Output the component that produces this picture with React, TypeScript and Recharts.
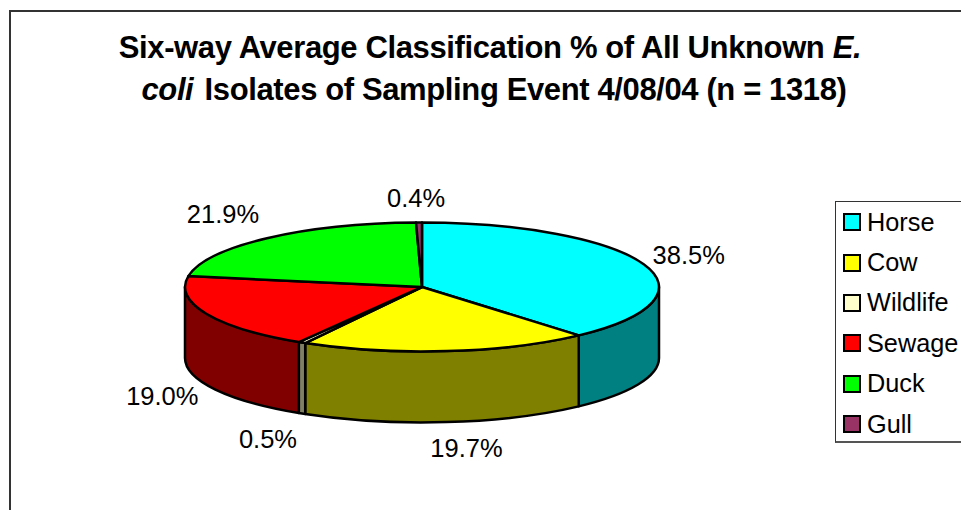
import React from 'react';
import { PieChart, Pie, Legend } from 'recharts';

const categories = ['Horse', 'Cow', 'Wildlife', 'Sewage', 'Duck', 'Gull'];
const shares = [38.5, 19.7, 0.5, 19.0, 21.9, 0.4];
const topColors = ['#00ffff', '#ffff00', '#ffffcc', '#ff0000', '#00ff00', '#993366'];
const sideColors = ['#008080', '#808000', '#808066', '#800000', '#008000', '#4d1a33'];

// nudges from the rim of the pie to where each percentage sits
const labelOffsets = [
  [45, -9],
  [20, 97],
  [-34, 96],
  [-44, 82],
  [-44, -24],
  [-3, -25],
];

const FONT = '"Liberation Sans", Arial, sans-serif';
const CX = 422;
const CY = 287;
const RADIUS = 237;
const SQUASH = 0.272; // pie is tilted, so the circle flattens into an ellipse
const DEPTH = 71;

const topData = categories.map((name, i) => ({ name, value: shares[i], fill: topColors[i] }));
const sideData = categories.map((name, i) => ({ name, value: shares[i], fill: sideColors[i] }));

const RAD = Math.PI / 180;
const rimX = (cx: number, r: number, a: number) => cx + r * Math.cos(a * RAD);
const rimY = (cy: number, r: number, a: number) => cy - r * SQUASH * Math.sin(a * RAD);

function TopSlice({ cx, cy, outerRadius, startAngle, endAngle, fill }: any) {
  const ry = outerRadius * SQUASH;
  const large = Math.abs(startAngle - endAngle) > 180 ? 1 : 0;
  const d = [
    `M ${cx} ${cy}`,
    `L ${rimX(cx, outerRadius, startAngle)} ${rimY(cy, outerRadius, startAngle)}`,
    `A ${outerRadius} ${ry} 0 ${large} 1 ${rimX(cx, outerRadius, endAngle)} ${rimY(cy, outerRadius, endAngle)}`,
    'Z',
  ].join(' ');
  return <path d={d} fill={fill} stroke="#000" strokeWidth={2.5} strokeLinejoin="round" />;
}

// the wall only shows for the part of a slice on the near half of the pie
function SideSlice({ cx, cy, outerRadius, startAngle, endAngle, fill }: any) {
  const from = Math.min(startAngle, 0);
  const to = Math.max(endAngle, -180);
  if (from <= to) return null;
  const ry = outerRadius * SQUASH;
  const x1 = rimX(cx, outerRadius, from);
  const y1 = rimY(cy, outerRadius, from);
  const x2 = rimX(cx, outerRadius, to);
  const y2 = rimY(cy, outerRadius, to);
  const d = [
    `M ${x1} ${y1}`,
    `A ${outerRadius} ${ry} 0 0 1 ${x2} ${y2}`,
    `L ${x2} ${y2 + DEPTH}`,
    `A ${outerRadius} ${ry} 0 0 0 ${x1} ${y1 + DEPTH}`,
    'Z',
  ].join(' ');
  return <path d={d} fill={fill} stroke="#000" strokeWidth={2.5} strokeLinejoin="round" />;
}

function renderLabel({ cx, cy, outerRadius, midAngle, index, value }: any) {
  const [dx, dy] = labelOffsets[index];
  return (
    <text
      x={rimX(cx, outerRadius, midAngle) + dx}
      y={rimY(cy, outerRadius, midAngle) + dy}
      textAnchor="middle"
      dominantBaseline="central"
      fontFamily={FONT}
      fontSize={25.5}
      fill="#000"
    >
      {`${value.toFixed(1)}%`}
    </text>
  );
}

function LegendBox({ payload }: any) {
  // the wall pie also reports its slices, only the top colours belong in the key
  const items = (payload || []).filter((item: any) => topColors.includes(item.color));
  return (
    <div style={{ fontFamily: FONT, fontSize: 25.3, color: '#000', height: '100%', paddingTop: 0 }}>
      {items.map((item: any) => (
        <div key={item.value} style={{ display: 'flex', alignItems: 'center', height: 40.4, paddingLeft: 7 }}>
          <span
            style={{
              width: 14,
              height: 14,
              background: item.color,
              border: '2px solid #000',
              marginRight: 6,
              flex: 'none',
            }}
          />
          {item.value}
        </div>
      ))}
    </div>
  );
}

export default function App() {
  return (
    <div style={{ position: 'absolute', left: 0, top: 0, width: 961, height: 510, overflow: 'hidden', background: '#fff' }}>
      <PieChart width={961} height={510} margin={{ top: 0, right: 0, bottom: 0, left: 0 }}>
        <rect x={10} y={11} width={1000} height={600} fill="#fff" stroke="#333" strokeWidth={2} />
        <text textAnchor="middle" fontFamily={FONT} fontSize={31} fontWeight="bold" fill="#000" letterSpacing={-0.38}>
          <tspan x={490} y={58}>
            Six-way Average Classification % of All Unknown <tspan fontStyle="italic">E.</tspan>
          </tspan>
          <tspan x={494} y={100}>
            <tspan fontStyle="italic">coli</tspan> <tspan dx={3}>Isolates of Sampling Event 4/08/04 (n = 1318)</tspan>
          </tspan>
        </text>
        <Pie
          data={sideData}
          dataKey="value"
          nameKey="name"
          cx={CX}
          cy={CY}
          outerRadius={RADIUS}
          startAngle={90}
          endAngle={-270}
          stroke="none"
          legendType="none"
          shape={SideSlice}
          isAnimationActive={false}
        />
        <Pie
          data={topData}
          dataKey="value"
          nameKey="name"
          cx={CX}
          cy={CY}
          outerRadius={RADIUS}
          startAngle={90}
          endAngle={-270}
          stroke="none"
          shape={TopSlice}
          label={renderLabel}
          labelLine={false}
          isAnimationActive={false}
        />
        <Legend
          content={LegendBox}
          itemSorter={null}
          layout="vertical"
          wrapperStyle={{
            position: 'absolute',
            left: 835,
            top: 201,
            width: 126,
            height: 242,
            boxSizing: 'border-box',
            borderLeft: '1px solid #333',
            borderTop: '1px solid #333',
            borderBottom: '2px solid #555',
            background: '#fff',
          }}
        />
      </PieChart>
    </div>
  );
}
